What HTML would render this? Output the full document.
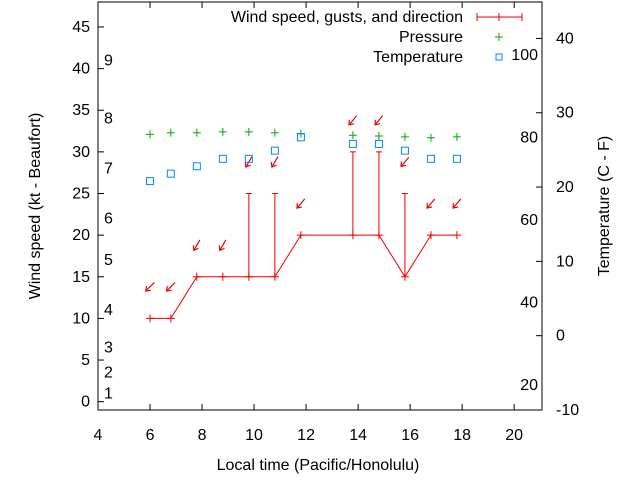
<!DOCTYPE html>
<html><head><meta charset="utf-8"><style>
body{margin:0;background:#fff;}
svg text{font-family:"Liberation Sans",sans-serif;font-size:16px;fill:#000;}
</style></head><body>
<svg id="c" width="640" height="480"></svg>
<script>
const times=[6,6.8,7.8,8.8,9.8,10.8,11.8,13.8,14.8,15.8,16.8,17.8];
const speeds=[10,10,15,15,15,15,20,20,20,15,20,20];
const gusts=[null,null,null,null,25,25,null,30,30,25,null,null];
const dirs=[225,225,210,210,210,210,220,220,220,220,220,220];
const pressure=[32.1,32.3,32.3,32.4,32.4,32.3,32.2,32,31.9,31.8,31.7,31.8];
const tempC=[20.8,21.8,22.8,23.8,23.8,24.9,26.7,25.8,25.8,24.9,23.8,23.8];
const xTicks=[4,6,8,10,12,14,16,18,20];
const yTicks=[0,5,10,15,20,25,30,35,40,45];
const cTicks=[-10,0,10,20,30,40];
const fTicks=[20,40,60,80,100];
const bft=[[1,1],[2,3.5],[3,6.5],[4,11],[5,17],[6,22],[7,28],[8,34],[9,41]];

const L=98,R=542,T=2,B=410;
const X=v=>L+(v-4)/(21.07-4)*(R-L);
const Y=v=>B-(v+1)/49*(B-T);
const YC=c=>B-(c+10)/54.9*(B-T);
const svg=document.getElementById('c');
const NS='http://www.w3.org/2000/svg';
function mk(t,a,p){const e=document.createElementNS(NS,t);for(const k in a)e.setAttribute(k,a[k]);(p||svg).appendChild(e);return e;}
function txt(x,y,s,anc){const e=mk('text',{x:x,y:y,'text-anchor':anc||'start'});e.textContent=s;return e;}

let e=mk('rect',{x:L,y:T,width:R-L,height:B-T,fill:'none',stroke:'#000','stroke-width':1});

xTicks.forEach(v=>{const x=X(v);mk('line',{x1:x,y1:B,x2:x,y2:B-6,stroke:'#000'});mk('line',{x1:x,y1:T,x2:x,y2:T+6,stroke:'#000'});
 e=txt(x,440,String(v),'middle');});
yTicks.forEach(v=>{const y=Y(v);mk('line',{x1:L,y1:y,x2:L+6,y2:y,stroke:'#000'});
 e=txt(L-8,y+5,String(v),'end');});
cTicks.forEach(v=>{const y=YC(v);mk('line',{x1:R,y1:y,x2:R-6,y2:y,stroke:'#000'});
 e=txt(R+14,y+5,String(v),'start');});
fTicks.forEach(v=>{const y=YC((v-32)*5/9);
 e=txt(R-4,y+5,String(v),'end');});
bft.forEach(b=>{e=txt(104,Y(b[1])+5,String(b[0]),'start');});

e=txt(318,470,'Local time (Pacific/Honolulu)','middle');
e=txt(0,0,'Wind speed (kt - Beaufort)','middle');e.setAttribute('transform','translate(40,206) rotate(-90)');
e=txt(0,0,'Temperature (C - F)','middle');e.setAttribute('transform','translate(609,206) rotate(-90)');

let pts=times.map((t,i)=>X(t)+','+Y(speeds[i])).join(' ');
e=mk('polyline',{points:pts,fill:'none',stroke:'#e00','stroke-width':1});
times.forEach((t,i)=>{const x=X(t),y=Y(speeds[i]);
 e=mk('path',{d:`M${x-4},${y}H${x+4}M${x},${y-4}V${y+4}`,stroke:'#e00'});
 if(gusts[i]!=null){const g=Y(gusts[i]);
  e=mk('path',{d:`M${x},${y}V${g}M${x-3},${g}H${x+3}`,stroke:'#e00'});}
 const top=Math.max(speeds[i],gusts[i]||0)+3.8;const ay=Y(top);
 const a=dirs[i]*Math.PI/180, len=12;const dx=Math.sin(a)*len,dy=-Math.cos(a)*len;
 const x0=x-dx/2,y0=ay-dy/2,x1=x+dx/2,y1=ay+dy/2;
 const ux=dx/len,uy=dy/len;
 e=mk('path',{d:`M${x0},${y0}L${x1},${y1}M${x1-ux*4-uy*3},${y1-uy*4+ux*3}L${x1},${y1}L${x1-ux*4+uy*3},${y1-uy*4-ux*3}`,stroke:'#e00',fill:'none','stroke-width':1.2});
 
});
pressure.forEach((p,i)=>{const x=X(times[i]),y=Y(p);
 e=mk('path',{d:`M${x-4},${y}H${x+4}M${x},${y-4}V${y+4}`,stroke:'#0a0'});});
tempC.forEach((c,i)=>{const x=X(times[i]),y=YC(c);
 e=mk('rect',{x:x-3.5,y:y-3.5,width:7,height:7,fill:'none',stroke:'#08f'});});

e=txt(463,22,'Wind speed, gusts, and direction','end');
mk('path',{d:'M477,17H522M477,13V21M522,13V21M499,13V21',stroke:'#e00'});
e=txt(463,42,'Pressure','end');
mk('path',{d:'M495,37H503M499,33V41',stroke:'#0a0'});
e=txt(463,62,'Temperature','end');
mk('rect',{x:496,y:54,width:6,height:6,fill:'none',stroke:'#08f'});
</script>
</body></html>
